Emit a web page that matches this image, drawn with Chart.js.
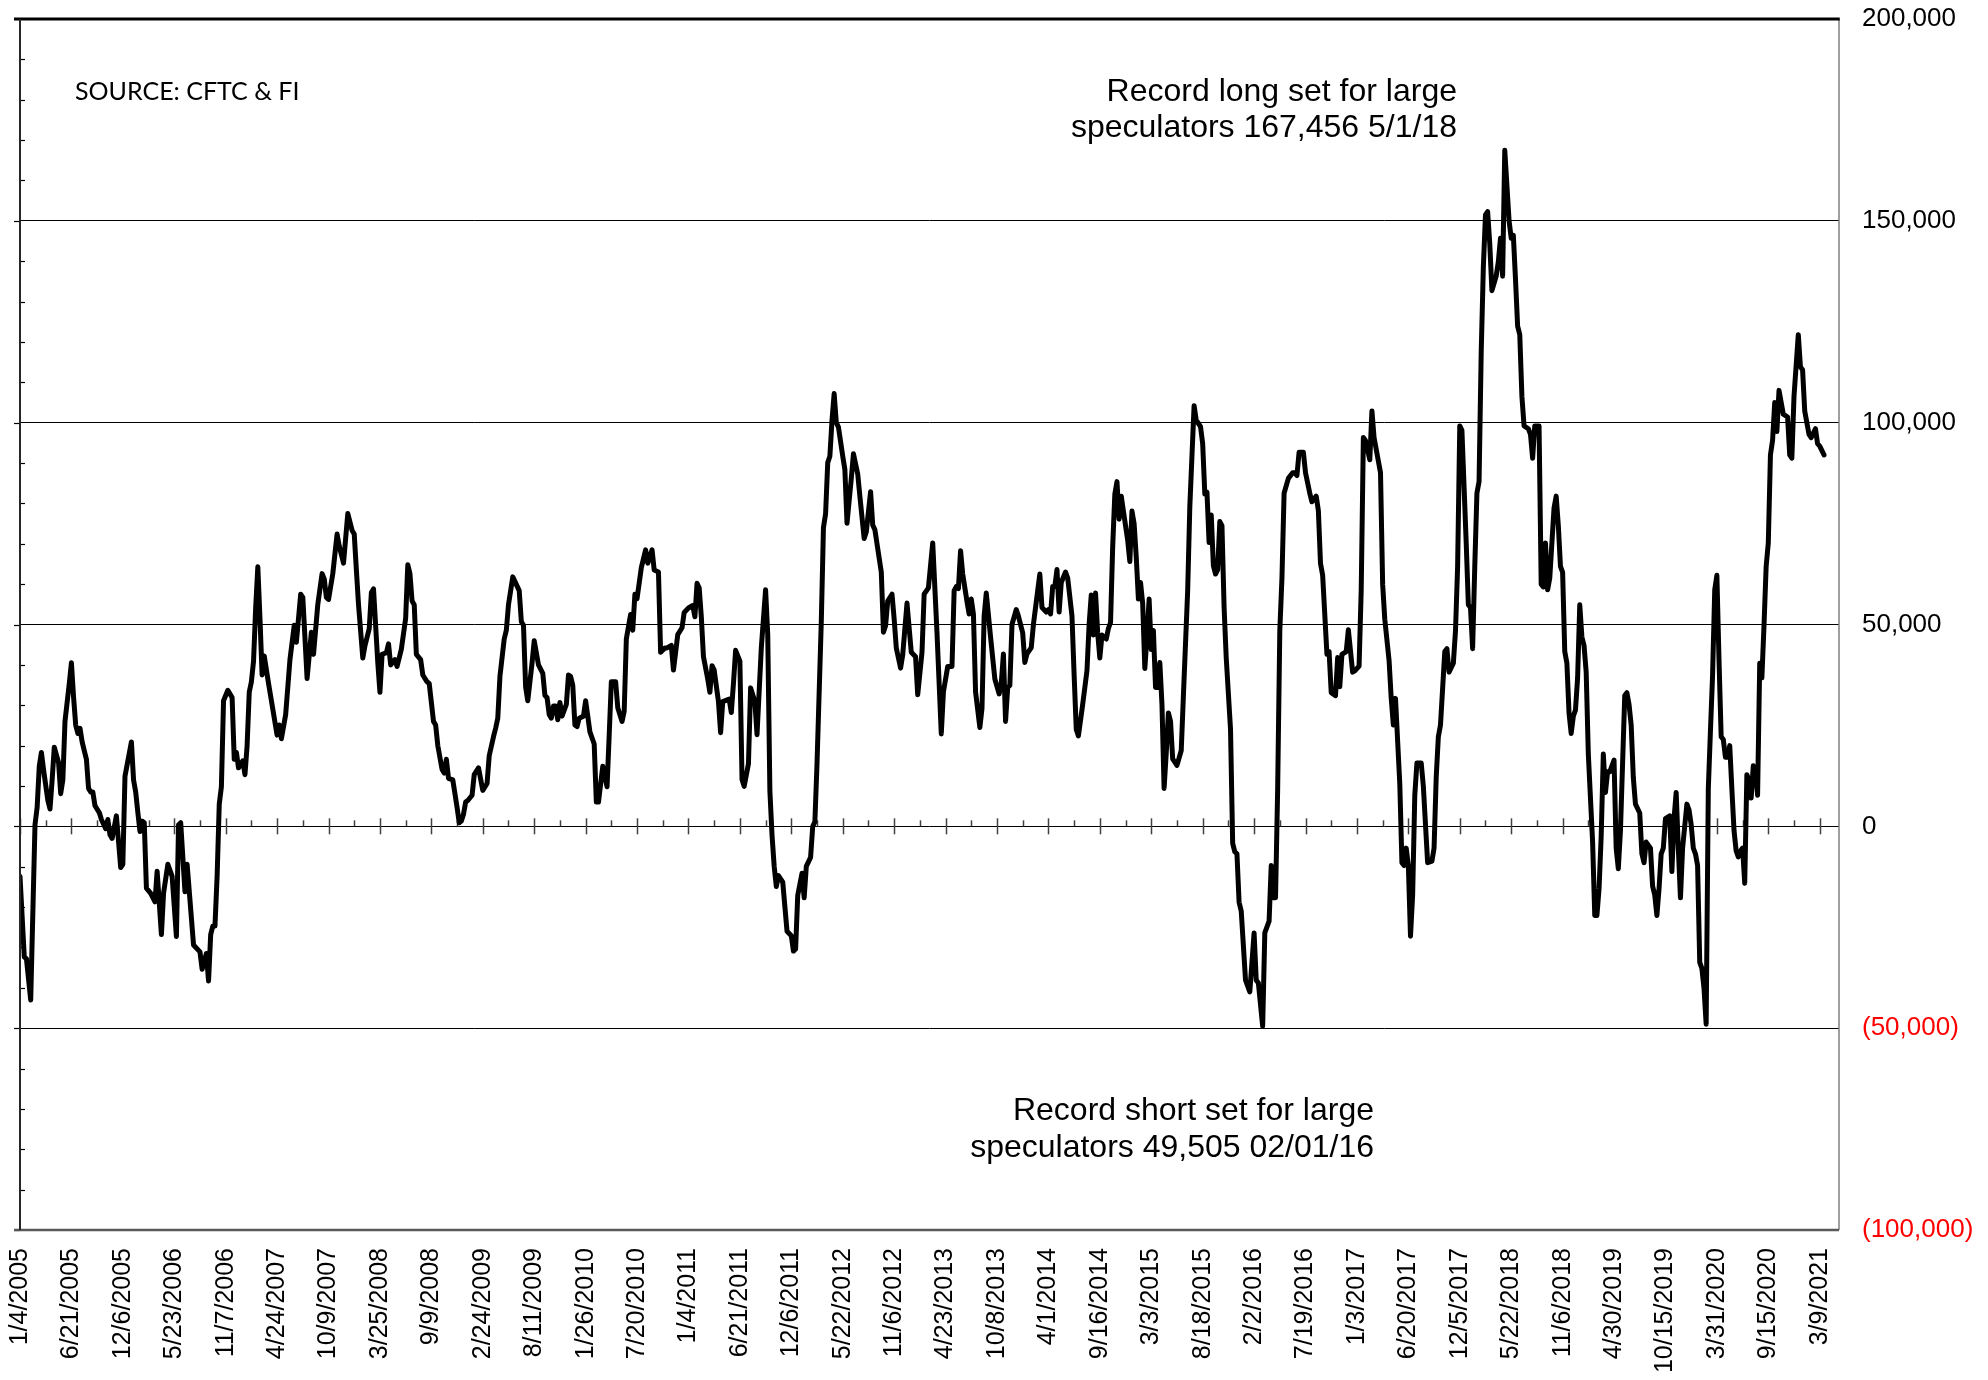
<!DOCTYPE html>
<html>
<head>
<meta charset="utf-8">
<script src="https://cdn.jsdelivr.net/npm/chart.js@4.4.1/dist/chart.umd.min.js"></script>
<style>
html,body{margin:0;padding:0;background:#ffffff;}
#wrap{width:1988px;height:1380px;position:relative;}
</style>
</head>
<body>
<div id="wrap"><canvas id="c" width="1988" height="1380"></canvas></div>
<script>
// ---- Data ----
const dateLabels = ["1/4/2005","6/21/2005","12/6/2005","5/23/2006","11/7/2006","4/24/2007","10/9/2007","3/25/2008","9/9/2008","2/24/2009","8/11/2009","1/26/2010","7/20/2010","1/4/2011","6/21/2011","12/6/2011","5/22/2012","11/6/2012","4/23/2013","10/8/2013","4/1/2014","9/16/2014","3/3/2015","8/18/2015","2/2/2016","7/19/2016","1/3/2017","6/20/2017","12/5/2017","5/22/2018","11/6/2018","4/30/2019","10/15/2019","3/31/2020","9/15/2020","3/9/2021"];
const weeksPerLabel = 24;
const lastWeek = 849;

// week number since 1/4/2005 (weekly report index)
const weekIndex = [0,2,3,5,7,8,9,10,11,13,14,15,16,18,19,20,21,23,24,25,26,27,28,29,31,32,33,34,35,37,38,40,41,42,43,45,47,48,49,52,53,54,55,56,57,58,59,61,63,64,66,67,69,71,73,74,75,77,78,81,84,85,87,88,89,90,91,92,93,94,95,97,99,100,101,102,104,105,106,107,108,109,110,111,112,113,114,116,120,121,122,124,126,128,129,131,132,134,136,137,139,141,
142,143,144,146,148,149,151,153,155,156,157,158,160,161,163,164,165,167,168,169,171,172,173,175,176,178,180,181,182,183,184,185,187,188,190,191,193,194,195,197,198,199,200,202,204,205,206,207,208,209,211,212,214,216,218,219,221,222,223,224,226,227,228,230,233,234,235,236,237,239,240,242,244,245,246,247,248,249,250,251,252,253,255,256,257,258,259,260,261,263,264,265,266,268,269,270,272,274,275,276,278,279,281,282,
283,285,286,287,288,290,292,293,295,296,298,299,301,302,304,305,307,309,310,312,314,315,316,317,318,319,321,322,323,324,326,327,328,331,332,333,334,336,337,338,340,341,343,344,346,348,349,350,351,352,353,354,356,358,360,361,362,363,365,366,367,369,370,371,372,374,375,376,377,378,379,380,381,382,384,385,386,388,389,391,392,394,395,397,398,399,402,403,404,405,407,408,409,411,412,414,416,418,419,421,422,424,426,
428,430,431,433,435,436,437,438,439,440,442,443,444,445,446,448,449,450,451,453,455,457,458,459,460,461,462,463,465,466,468,469,470,472,473,475,476,477,479,480,481,482,483,484,485,486,488,489,491,492,493,494,496,497,498,499,500,501,502,503,504,505,507,508,509,510,511,512,513,514,515,517,518,519,520,521,522,523,524,525,526,527,528,529,530,531,532,533,534,535,536,537,538,540,542,543,545,546,547,548,549,551,552,553,554,555,556,557,558,559,560,561,562,563,565,566,567,568,
569,570,572,574,576,577,578,580,581,583,584,585,586,587,588,589,590,592,594,595,596,597,599,600,602,603,605,606,607,608,610,611,612,614,615,616,617,619,620,622,623,625,626,627,628,630,631,632,634,635,636,637,639,640,641,642,644,645,646,647,648,649,650,651,652,654,655,657,659,660,661,662,663,665,666,667,669,670,671,672,673,675,676,677,678,679,680,681,682,683,684,685,686,687,689,690,691,692,693,694,695,696,697,698,699,700,701,702,704,705,706,707,709,
710,711,712,713,714,715,716,717,718,719,720,721,722,723,724,725,726,727,728,729,730,731,732,734,735,736,737,738,739,740,741,742,744,745,746,747,749,750,751,752,753,754,756,757,758,759,761,762,763,764,765,766,767,768,770,771,772,773,774,775,776,778,779,780,781,782,783,784,785,786,787,788,789,790,791,792,793,794,795,796,797,798,799,800,801,802,803,804,805,806,807,808,809,810,811,812,813,814,815,816,817,818,819,820,821,823,825,826,827,828,830,831,832,833,835,836,838,839,840,842];

// net position of large speculators (contracts)
const netPosition = [-12400,-32400,-32800,-43000,400,4700,14900,18300,14000,6400,4300,11500,19600,15800,8100,11500,26000,35400,40500,32000,25100,23000,24300,20900,16600,9400,8500,8500,5100,3400,1700,-600,1700,-2100,-3000,2600,-10200,-9400,12400,20900,11500,8500,3400,-1300,1300,900,-15300,-16600,-18700,-11100,-26800,-16600,-9400,-12400,-27300,400,900,-16200,-9400,-29400,-31100,-35400,-31500,-38300,-26800,-24700,-24700,-12400,5500,9800,31100,33700,31900,16600,18300,14500,16200,12800,20000,33200,35800,40900,54100,64300,51500,37500,42200,35400,22600,25100,21700,27700,41300,49800,45600,57500,56700,36600,48100,42600,55000,62600,
61300,56700,56200,62600,72400,69400,65200,77500,73300,72400,63500,54900,41700,44700,49000,57900,58800,40500,33200,42600,43000,45200,40000,41300,39600,43900,51500,64800,62600,55800,54900,42600,41300,37500,35800,35400,26000,25100,20000,14100,13200,16600,11900,11500,4700,900,1300,3000,6000,6400,7700,12800,14500,8900,10600,17500,22200,24300,26800,37100,46400,48600,54900,61800,58400,50700,49800,34500,31100,40500,46000,40000,37900,32400,31900,27700,26800,29800,29800,26400,30700,27300,30200,37500,37100,34900,25100,24700,26800,27300,31100,27300,23400,20400,6000,6000,14900,9800,22600,35800,35800,29400,26000,28500,
46400,52500,48600,57500,56400,64100,68500,65200,68500,63500,63000,43100,44200,44200,44800,38700,47500,49200,53000,54100,54700,51900,60200,59100,51900,42000,36500,33200,39800,38700,30900,23200,30900,31500,28200,35400,43600,40900,11600,9900,15500,34300,30900,22700,44200,58600,47500,8800,-2200,-9900,-14900,-12200,-13800,-26000,-27100,-30900,-30400,-17100,-11600,-17700,-9900,-7700,0,1100,15500,50800,74000,77400,90100,91700,100600,107200,100000,98900,91700,88400,75100,86200,92300,87300,81800,71300,72900,82900,74600,73500,63000,48100,49700,55800,57500,51400,44200,39200,42500,55300,43100,42000,32600,43100,57500,59100,70200,
47900,22900,33300,39600,39600,58400,59400,58900,68300,62500,55700,52600,56300,52600,33300,24500,29200,52100,57800,46900,36500,32800,35400,42700,26000,34400,34900,50000,53700,52100,47900,40600,42700,44300,50000,58400,62500,54200,53100,53700,52600,59400,59400,63600,53100,60400,63000,61500,52100,37500,24000,22400,30200,34400,38600,50000,57300,47400,57800,47900,41700,47400,46400,49000,50500,69300,82300,85400,76100,81800,78100,70900,65600,78100,75000,66700,56300,60400,55200,39100,46900,56300,43800,48500,34400,34400,40600,30200,9400,18200,28100,26000,16700,15100,18800,32300,58400,79200,91700,104200,100600,99000,94800,82300,82800,70300,77100,64600,62500,63600,75500,74500,54200,41700,24000,-4200,-6300,-6800,
-18800,-21000,-38100,-41000,-26400,-38100,-38800,-49505,-26400,-23500,-9700,-17700,-17700,9200,48400,61500,82500,86200,87600,87600,86900,92700,92700,87600,82500,80400,81800,78200,65100,62200,42600,43300,33100,32400,41800,34600,42600,43300,48700,38200,38500,39700,58600,96300,95600,90800,102900,96300,90500,87600,60000,51300,41100,31700,25100,31700,10600,-9000,-9700,-5400,-9700,-27200,-17000,7700,15700,15700,9900,-9000,-8600,-5400,12100,22200,25100,43300,44000,38200,40400,48400,64400,99200,98100,70200,54900,54200,44000,64400,82500,85400,117400,138500,151500,152300,144300,132700,136300,139900,145700,136300,167456,158800,150100,145700,146400,135600,123900,121800,106500,99200,98500,97100,91200,99200,99200,
60000,59300,70200,58600,61500,70200,78900,81800,74500,64400,62900,43300,40400,28000,23000,27300,28800,36800,54900,46900,44800,38200,17900,-3900,-22100,-22100,-15500,-2500,17900,8400,13500,13500,16400,-5400,-10500,-1000,32400,33100,30200,25100,12100,5500,3300,-6800,-9000,-3900,-5400,-14800,-17000,-22100,-15500,-6800,-5400,1900,2600,-11200,1900,8400,-5400,-17700,-5400,5500,4100,400,-5400,-6800,-9700,-33700,-35200,-40200,-49000,9200,23700,37500,58600,62200,41100,22200,21500,17100,17100,20000,9200,-1000,-6100,-7600,-6100,-5400,-14100,12800,11300,7000,15000,14200,7700,40400,36800,49800,64400,70200,92000,95600,105000,97800,108000,102100,101400,92000,91200,106500,121800,113800,113100,102900,97100,96300,98500,94800,94200,92000];

const yMin = -100000, yMax = 200000, yStep = 50000, yMinorStep = 10000;
const sourceNote = "SOURCE: CFTC & FI";
const noteLong = ["Record long set for large", "speculators 167,456 5/1/18"];
const noteShort = ["Record short set for large", "speculators 49,505 02/01/16"];

const points = weekIndex.map((w, i) => ({x: w, y: netPosition[i]}));

function fmt(v) {
  const s = Math.abs(v).toLocaleString('en-US');
  return v < 0 ? '(' + s + ')' : s;
}

const framePlugin = {
  id: 'frame',
  beforeDatasetsDraw(chart) {
    const {ctx, chartArea: a, scales: {x, y}} = chart;
    ctx.save();
    // ticks on the zero line
    const y0 = y.getPixelForValue(0);
    ctx.strokeStyle = '#404040';
    ctx.lineWidth = 1.5;
    for (let w = 0; w <= lastWeek; w += weeksPerLabel / 2) {
      const px = Math.round(x.getPixelForValue(w)) + 0.5;
      const major = (w % weeksPerLabel) === 0;
      ctx.beginPath();
      ctx.moveTo(px, y0 - (major ? 8 : 6));
      ctx.lineTo(px, y0 + (major ? 8 : 0));
      ctx.stroke();
    }
    // left axis ticks
    ctx.strokeStyle = '#000';
    ctx.lineWidth = 1.2;
    for (let v = yMin; v <= yMax; v += yMinorStep) {
      const py = Math.round(y.getPixelForValue(v)) + 0.5;
      const major = (v % yStep) === 0;
      ctx.beginPath();
      if (major) { ctx.moveTo(a.left - 6, py); ctx.lineTo(a.left, py); }
      else { ctx.moveTo(a.left, py); ctx.lineTo(a.left + 5, py); }
      ctx.stroke();
    }
    ctx.restore();
  },
  afterDatasetsDraw(chart) {
    const {ctx, chartArea: a} = chart;
    ctx.save();
    ctx.lineCap = 'butt';
    ctx.strokeStyle = '#7f7f7f'; ctx.lineWidth = 1.5;
    ctx.beginPath(); ctx.moveTo(a.right, a.top); ctx.lineTo(a.right, a.bottom); ctx.stroke();
    ctx.strokeStyle = '#595959'; ctx.lineWidth = 2.5;
    ctx.beginPath(); ctx.moveTo(a.left - 6, a.bottom); ctx.lineTo(a.right, a.bottom); ctx.stroke();
    ctx.strokeStyle = '#000'; ctx.lineWidth = 3;
    ctx.beginPath(); ctx.moveTo(a.left - 6, a.top); ctx.lineTo(a.right + 0.75, a.top); ctx.stroke();
    ctx.strokeStyle = '#262626'; ctx.lineWidth = 2;
    ctx.beginPath(); ctx.moveTo(a.left, a.top); ctx.lineTo(a.left, a.bottom); ctx.stroke();
    ctx.restore();
  },
  afterDraw(chart) {
    const {ctx} = chart;
    ctx.save();
    ctx.fillStyle = '#000';
    ctx.textBaseline = 'alphabetic';
    ctx.font = '25px Lato, "Open Sans", sans-serif';
    ctx.textAlign = 'left';
    ctx.fillText(sourceNote, 75, 100);
    ctx.font = '32px "Liberation Sans", Arial, sans-serif';
    ctx.textAlign = 'right';
    ctx.fillText(noteLong[0], 1457, 101);
    ctx.fillText(noteLong[1], 1457, 137);
    ctx.fillText(noteShort[0], 1374, 1120);
    ctx.fillText(noteShort[1], 1374, 1157);
    ctx.restore();
  }
};

new Chart(document.getElementById('c'), {
  type: 'line',
  data: {
    datasets: [{
      data: points,
      borderColor: '#000',
      borderWidth: 5,
      pointRadius: 0,
      tension: 0,
      borderJoinStyle: 'round',
      borderCapStyle: 'round',
      fill: false
    }]
  },
  options: {
    responsive: false,
    devicePixelRatio: 1,
    animation: false,
    events: [],
    layout: {padding: {left: 20, top: 19, right: 0, bottom: 0}},
    plugins: {legend: {display: false}, tooltip: {enabled: false}, title: {display: false}},
    scales: {
      x: {
        type: 'linear',
        min: 0,
        max: lastWeek,
        afterBuildTicks(scale) {
          scale.ticks = dateLabels.map((l, i) => ({value: i * weeksPerLabel}));
        },
        afterFit(scale) { scale.height = 150; scale.paddingLeft = 0; scale.paddingRight = 0; },
        grid: {display: false, drawTicks: false},
        border: {display: false},
        ticks: {
          autoSkip: false,
          minRotation: 90,
          maxRotation: 90,
          padding: 18,
          color: '#000',
          font: {family: '"Liberation Sans", Arial, sans-serif', size: 25},
          callback: (v) => dateLabels[Math.round(v / weeksPerLabel)]
        }
      },
      y: {
        position: 'right',
        min: yMin,
        max: yMax,
        afterFit(scale) { scale.width = 149; scale.paddingTop = 0; scale.paddingBottom = 0; },
        grid: {color: '#000', lineWidth: 1, drawTicks: false},
        border: {display: false},
        ticks: {
          stepSize: yStep,
          padding: 23,
          font: {family: '"Liberation Sans", Arial, sans-serif', size: 26},
          color: (c) => (c.tick && c.tick.value < 0) ? '#ff0000' : '#000',
          callback: (v) => fmt(v)
        }
      }
    }
  },
  plugins: [framePlugin]
});
</script>
</body>
</html>
